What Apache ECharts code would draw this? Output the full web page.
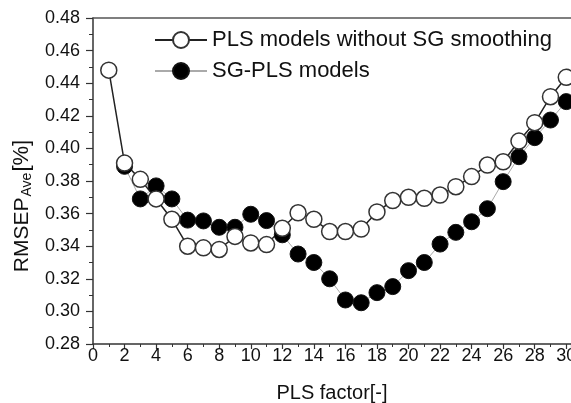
<!DOCTYPE html>
<html>
<head>
<meta charset="utf-8">
<script src="https://cdn.jsdelivr.net/npm/echarts@6/dist/echarts.min.js"></script>
<style>html,body{margin:0;padding:0;background:#fff}#c{width:571px;height:403px}</style>
</head>
<body>
<div id="c"></div>
<script>
var factors = [1,2,3,4,5,6,7,8,9,10,11,12,13,14,15,16,17,18,19,20,21,22,23,24,25,26,27,28,29,30];
var plsNoSG = [0.448,0.391,0.381,0.369,0.3565,0.340,0.339,0.338,0.346,0.342,0.341,0.351,0.3605,0.3565,0.349,0.349,0.3505,0.361,0.368,0.370,0.3694,0.3714,0.3765,0.3827,0.3898,0.3918,0.4045,0.4158,0.4317,0.4436];
var sgPls = [null,0.389,0.369,0.377,0.369,0.356,0.3555,0.3516,0.3516,0.3596,0.3557,0.347,0.3352,0.330,0.320,0.307,0.3053,0.3115,0.3152,0.325,0.330,0.3413,0.3485,0.355,0.363,0.3796,0.3949,0.4066,0.4174,0.4287];
var yTicks = [0.28,0.30,0.32,0.34,0.36,0.38,0.40,0.42,0.44,0.46,0.48];
var nameA = 'PLS models without SG smoothing';
var nameB = 'SG-PLS models';

function pairs(vals){ var out=[]; for(var i=0;i<factors.length;i++){ if(vals[i]!=null) out.push([factors[i], vals[i]]); } return out; }

var chart = echarts.init(document.getElementById('c'));
var font = 'Liberation Sans, Arial, sans-serif';
chart.setOption({
  animation:false,
  backgroundColor:'#fff',
  textStyle:{fontFamily:font},
  grid:{left:93, top:18, bottom:59, right:0, show:false, outerBoundsMode:'none', containLabel:false},
  legend:{
    orient:'vertical', left:149, top:24, itemWidth:52, itemHeight:20, itemGap:9,
    data:[nameA, nameB],
    textStyle:{fontSize:22, color:'#111', fontFamily:font}
  },
  xAxis:[{
    type:'value', min:0, max:30.3, interval:2,
    name:'PLS factor[-]', nameLocation:'middle', nameGap:39,
    nameTextStyle:{fontSize:20, color:'#111'},
    axisLine:{lineStyle:{color:'#333', width:1.5}},
    axisTick:{show:true, inside:false, length:5, lineStyle:{color:'#333', width:1.2}},
    minorTick:{show:true, splitNumber:2, length:3, lineStyle:{color:'#333', width:1}},
    splitLine:{show:false},
    axisLabel:{fontSize:18, color:'#111', margin:3, showMaxLabel:false, hideOverlap:false}
  },{
    type:'value', position:'top', min:0, max:30.3,
    axisLine:{show:true, lineStyle:{color:'#555', width:1.5}},
    axisTick:{show:false}, axisLabel:{show:false}, splitLine:{show:false}
  }],
  yAxis:{
    type:'value', min:yTicks[0], max:yTicks[yTicks.length-1], interval:0.02,
    name:'{a|RMSEP}{s|Ave}{b|[%]}', nameLocation:'middle', nameGap:56,
    nameTextStyle:{padding:[0,50,0,0], rich:{
      a:{fontSize:21, color:'#111', fontFamily:font},
      s:{fontSize:14, color:'#111', fontFamily:font, padding:[10,1,0,1]},
      b:{fontSize:22, color:'#111', fontFamily:font}
    }},
    axisLine:{lineStyle:{color:'#333', width:1.5}},
    axisTick:{show:true, inside:false, length:7, lineStyle:{color:'#333', width:1.2}},
    minorTick:{show:true, splitNumber:2, length:4, lineStyle:{color:'#333', width:1}},
    splitLine:{show:false},
    axisLabel:{fontSize:18, color:'#111', margin:13, formatter:function(v){return v.toFixed(2);}}
  },
  series:[
    {
      name:nameB, type:'line', data:pairs(sgPls), symbol:'circle', symbolSize:16,
      lineStyle:{color:'#aaa', width:1},
      itemStyle:{color:'#000', borderColor:'#111', borderWidth:1}
    },
    {
      name:nameA, type:'line', data:pairs(plsNoSG), symbol:'circle', symbolSize:16,
      lineStyle:{color:'#222', width:1.5},
      itemStyle:{color:'#fff', borderColor:'#333', borderWidth:1.5}
    }
  ]
});
</script>
</body>
</html>
